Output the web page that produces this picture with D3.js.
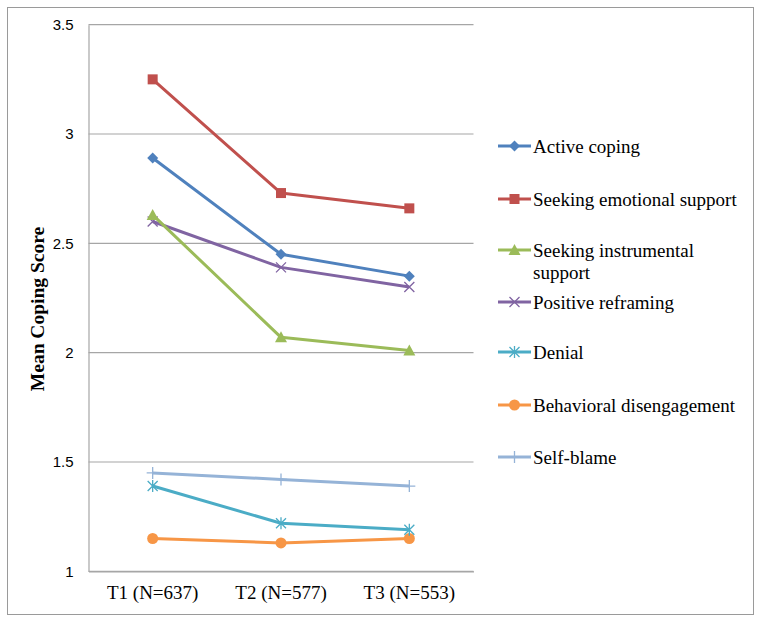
<!DOCTYPE html>
<html><head><meta charset="utf-8">
<script src="https://cdn.jsdelivr.net/npm/d3@7"></script>
<style>body{margin:0;background:#fff}</style>
</head><body>
<svg id="c" width="762" height="623"></svg>
<script>
const categories = ["T1 (N=637)", "T2 (N=577)", "T3 (N=553)"];
const seriesNames = ["Active coping", "Seeking emotional support", "Seeking instrumental support", "Positive reframing", "Denial", "Behavioral disengagement", "Self-blame"];
const activeCoping = [2.89, 2.45, 2.35];
const seekingEmotional = [3.25, 2.73, 2.66];
const seekingInstrumental = [2.63, 2.07, 2.01];
const positiveReframing = [2.60, 2.39, 2.30];
const denial = [1.39, 1.22, 1.19];
const behavioralDisengagement = [1.15, 1.13, 1.15];
const selfBlame = [1.45, 1.42, 1.39];
const yTicks = [1, 1.5, 2, 2.5, 3, 3.5];
const yTickLabels = ["1", "1.5", "2", "2.5", "3", "3.5"];

const seriesValues = [activeCoping, seekingEmotional, seekingInstrumental, positiveReframing, denial, behavioralDisengagement, selfBlame];
const colors = ["#4F81BD", "#C0504D", "#9BBB59", "#8064A2", "#4BACC6", "#F79646", "#95B3D7"];
const markers = ["diamond", "square", "triangle", "x", "asterisk", "circle", "plus"];

const svg = d3.select("#c");
svg.append("rect").attr("x", 7.5).attr("y", 7.5).attr("width", 746).attr("height", 607)
  .attr("fill", "#fff").attr("stroke", "#9a9a9a").attr("stroke-width", 1);

const L = 88.5, R = 473.5, T = 24.7, B = 571.3;
const x = d3.scaleBand().domain(categories).range([L, R]);
const y = d3.scaleLinear().domain([1, 3.5]).range([B, T]);

// gridlines
svg.append("g").selectAll("line").data(yTicks).join("line")
  .attr("x1", L).attr("x2", R).attr("y1", d => y(d)).attr("y2", d => y(d))
  .attr("stroke", "#a6a6a6").attr("stroke-width", 1.2);

// y axis
const yAxis = d3.axisLeft(y).tickValues(yTicks).tickFormat((d, i) => yTickLabels[i]).tickSize(0).tickPadding(15);
const gy = svg.append("g").attr("transform", `translate(${L},0)`).call(yAxis);
gy.attr("font-family", null).attr("font-size", null);
gy.select(".domain").attr("stroke", "#a6a6a6").attr("stroke-width", 1.2);
gy.selectAll("text").style("font-family", "'Liberation Sans', Arial, sans-serif").style("font-size", "15px").attr("fill", "#000");

// x axis
const xAxis = d3.axisBottom(x).tickSize(0).tickPadding(14);
const gx = svg.append("g").attr("transform", `translate(0,${B})`).call(xAxis);
gx.attr("font-family", null).attr("font-size", null);
gx.select(".domain").attr("stroke", "#a6a6a6").attr("stroke-width", 1.2);
gx.selectAll("text").style("font-family", "'Liberation Serif', 'Times New Roman', serif").style("font-size", "19px").attr("fill", "#000");

// y title
svg.append("text").attr("transform", `translate(44,309) rotate(-90)`)
  .attr("text-anchor", "middle").style("font-family", "'Liberation Serif', 'Times New Roman', serif")
  .attr("font-weight", "bold").style("font-size", "19.5px").text("Mean Coping Score");

function drawMarker(g, type, color, cx, cy) {
  const s = 5;
  if (type === "diamond") {
    g.append("path").attr("d", `M${cx},${cy - 5.5}L${cx + 5.5},${cy}L${cx},${cy + 5.5}L${cx - 5.5},${cy}Z`).attr("fill", color);
  } else if (type === "square") {
    g.append("rect").attr("x", cx - 5).attr("y", cy - 5).attr("width", 10).attr("height", 10).attr("fill", color);
  } else if (type === "triangle") {
    g.append("path").attr("d", `M${cx},${cy - 6}L${cx + 6},${cy + 5}L${cx - 6},${cy + 5}Z`).attr("fill", color);
  } else if (type === "x") {
    g.append("path").attr("d", `M${cx - s},${cy - s}L${cx + s},${cy + s}M${cx - s},${cy + s}L${cx + s},${cy - s}`).attr("stroke", color).attr("stroke-width", 1.3);
  } else if (type === "asterisk") {
    g.append("path").attr("d", `M${cx - s},${cy - s}L${cx + s},${cy + s}M${cx - s},${cy + s}L${cx + s},${cy - s}M${cx},${cy - 6}L${cx},${cy + 6}`).attr("stroke", color).attr("stroke-width", 1.3);
  } else if (type === "circle") {
    g.append("circle").attr("cx", cx).attr("cy", cy).attr("r", 5.5).attr("fill", color);
  } else if (type === "plus") {
    g.append("path").attr("d", `M${cx},${cy - 6}L${cx},${cy + 6}M${cx - 6},${cy}L${cx + 6},${cy}`).attr("stroke", color).attr("stroke-width", 1.3);
  }
}

const line = d3.line().x((d, i) => x(categories[i]) + x.bandwidth() / 2).y(d => y(d));
const order = [6, 5, 4, 3, 2, 1, 0];
order.forEach(si => {
  const g = svg.append("g");
  g.append("path").datum(seriesValues[si]).attr("d", line).attr("fill", "none")
    .attr("stroke", colors[si]).attr("stroke-width", 3).attr("stroke-linejoin", "round");
  seriesValues[si].forEach((v, i) => drawMarker(g, markers[si], colors[si], x(categories[i]) + x.bandwidth() / 2, y(v)));
});

// legend
const legendY = [146, 199, 250, 302, 352, 405, 457];
const lg = svg.append("g");
seriesNames.forEach((name, i) => {
  const cy = legendY[i];
  lg.append("line").attr("x1", 498).attr("x2", 531).attr("y1", cy).attr("y2", cy).attr("stroke", colors[i]).attr("stroke-width", 3);
  drawMarker(lg, markers[i], colors[i], 514.5, cy);
  const t = lg.append("text").attr("x", 533).attr("y", cy).attr("dy", "0.35em")
    .style("font-family", "'Liberation Serif', 'Times New Roman', serif").style("font-size", "19px").attr("fill", "#000");
  if (name === "Seeking instrumental support") {
    t.append("tspan").attr("x", 533).text("Seeking instrumental");
    t.append("tspan").attr("x", 533).attr("dy", "1.15em").text("support");
  } else {
    t.text(name);
  }
});
</script>
</body></html>
